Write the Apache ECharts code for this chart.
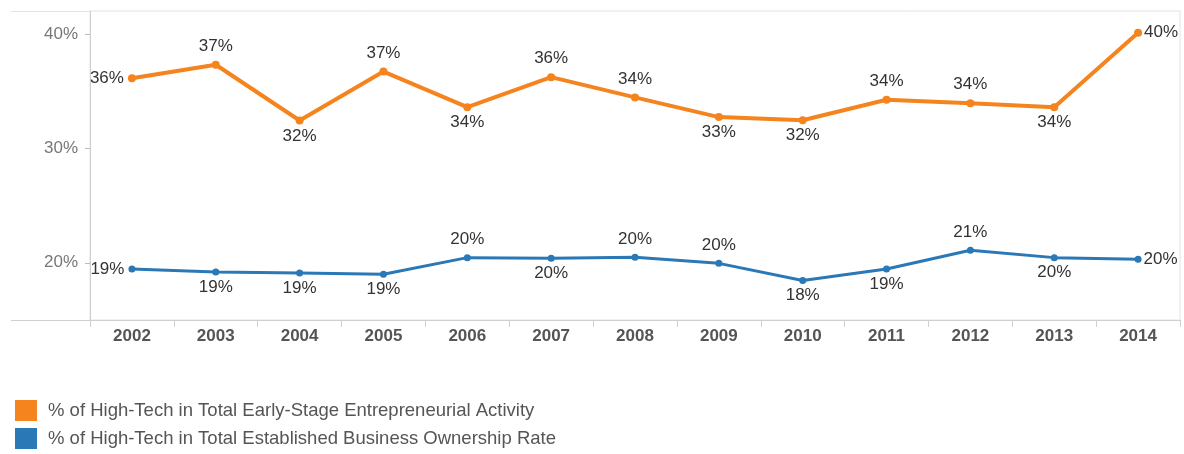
<!DOCTYPE html>
<html>
<head>
<meta charset="utf-8">
<title>High-Tech Share of Entrepreneurial Activity</title>
<script src="https://cdn.jsdelivr.net/npm/echarts@6/dist/echarts.min.js"></script>
<style>
  html, body { margin: 0; padding: 0; background: #ffffff; }
  #chart { width: 1184px; height: 454px; }
</style>
</head>
<body>
<div id="chart"></div>
<script>
// Survey years
const years = ['2002', '2003', '2004', '2005', '2006', '2007', '2008',
               '2009', '2010', '2011', '2012', '2013', '2014'];

// % of High-Tech in Total Early-Stage Entrepreneurial Activity
const earlyStage = [36.13, 37.3, 32.43, 36.71, 33.6, 36.22, 34.45,
                    32.73, 32.45, 34.24, 33.95, 33.6, 40.1];

// % of High-Tech in Total Established Business Ownership Rate
const established = [19.45, 19.2, 19.1, 19.0, 20.45, 20.4, 20.48,
                     19.95, 18.45, 19.45, 21.1, 20.45, 20.3];

const seriesNames = [
  '% of High-Tech in Total Early-Stage Entrepreneurial Activity',
  '% of High-Tech in Total Established Business Ownership Rate'
];

// Value-axis tick labels
const yTicks = [20, 30, 40];

// Which side of each point its value label sits on
const earlyLabelSide = ['left', 'top', 'bottom', 'top', 'bottom', 'top', 'top',
                        'bottom', 'bottom', 'top', 'top', 'bottom', 'right'];
const establishedLabelSide = ['left', 'bottom', 'bottom', 'bottom', 'top', 'bottom', 'top',
                              'top', 'bottom', 'bottom', 'top', 'bottom', 'right'];

// gap between a point and its label, by side
const labelGap = { top: 6, bottom: 3, left: 4, right: 2 };

const ORANGE = '#F5841F';
const BLUE = '#2A78B6';
const FONT = '"Liberation Sans", Arial, sans-serif';

function withLabels(values, sides) {
  return values.map((v, i) => ({
    value: v,
    label: { position: sides[i], distance: labelGap[sides[i]] }
  }));
}

const chart = echarts.init(document.getElementById('chart'), null, { renderer: 'canvas' });

const GRID = { left: 90, right: 4, top: 11, bottom: 134 };

const valueLabel = {
  show: true,
  fontFamily: FONT, fontSize: 17, color: '#333333',
  formatter: p => Math.round(p.value) + '%'
};

chart.setOption({
  animation: false,
  backgroundColor: '#ffffff',
  textStyle: { fontFamily: FONT },
  grid: {
    left: GRID.left, right: GRID.right, top: GRID.top, bottom: GRID.bottom,
    show: true, borderColor: '#e2e2e2', borderWidth: 1
  },
  legend: {
    orient: 'vertical',
    left: 15,
    top: 400,
    padding: 0,
    icon: 'rect',
    itemWidth: 22,
    itemHeight: 21,
    itemGap: 7,
    selectedMode: false,
    textStyle: { fontFamily: FONT, fontSize: 18.5, color: '#555555', padding: [0, 0, 0, 6] },
    data: [
      { name: seriesNames[0], itemStyle: { color: ORANGE } },
      { name: seriesNames[1], itemStyle: { color: BLUE } }
    ]
  },
  xAxis: {
    type: 'category',
    data: years,
    boundaryGap: true,
    axisLine: { show: true, lineStyle: { color: '#d0d0d0', width: 1 } },
    axisTick: { show: true, interval: 0, length: 7, lineStyle: { color: '#d0d0d0' } },
    axisLabel: {
      interval: 0, margin: 8,
      fontFamily: FONT, fontSize: 17, fontWeight: 'bold', color: '#555555'
    },
    splitLine: { show: false }
  },
  yAxis: {
    type: 'value',
    min: 15,
    max: 42,
    axisLine: { show: true, lineStyle: { color: '#d0d0d0', width: 1 } },
    axisTick: { show: true, length: 5, customValues: yTicks, lineStyle: { color: '#bdbdbd' } },
    axisLabel: {
      customValues: yTicks,
      margin: 12,
      fontFamily: FONT, fontSize: 17, color: '#777777',
      formatter: v => v + '%'
    },
    splitLine: { show: false }
  },
  series: [
    {
      name: seriesNames[0],
      type: 'line',
      data: withLabels(earlyStage, earlyLabelSide),
      symbol: 'circle',
      symbolSize: 8,
      color: ORANGE,
      lineStyle: { color: ORANGE, width: 4 },
      itemStyle: { color: ORANGE },
      label: valueLabel,
      z: 3
    },
    {
      name: seriesNames[1],
      type: 'line',
      data: withLabels(established, establishedLabelSide),
      symbol: 'circle',
      symbolSize: 7,
      color: BLUE,
      lineStyle: { color: BLUE, width: 3 },
      itemStyle: { color: BLUE },
      label: valueLabel,
      z: 3
    }
  ],
  graphic: [
    // frame rules running out to the left edge beside the value axis
    {
      type: 'line', silent: true,
      shape: { x1: 11, y1: GRID.top + 0.5, x2: GRID.left, y2: GRID.top + 0.5 },
      style: { stroke: '#e2e2e2', lineWidth: 1 }
    },
    {
      type: 'line', silent: true,
      shape: { x1: 11, y1: 454 - GRID.bottom + 0.5, x2: GRID.left, y2: 454 - GRID.bottom + 0.5 },
      style: { stroke: '#d0d0d0', lineWidth: 1 }
    }
  ]
});
</script>
</body>
</html>
